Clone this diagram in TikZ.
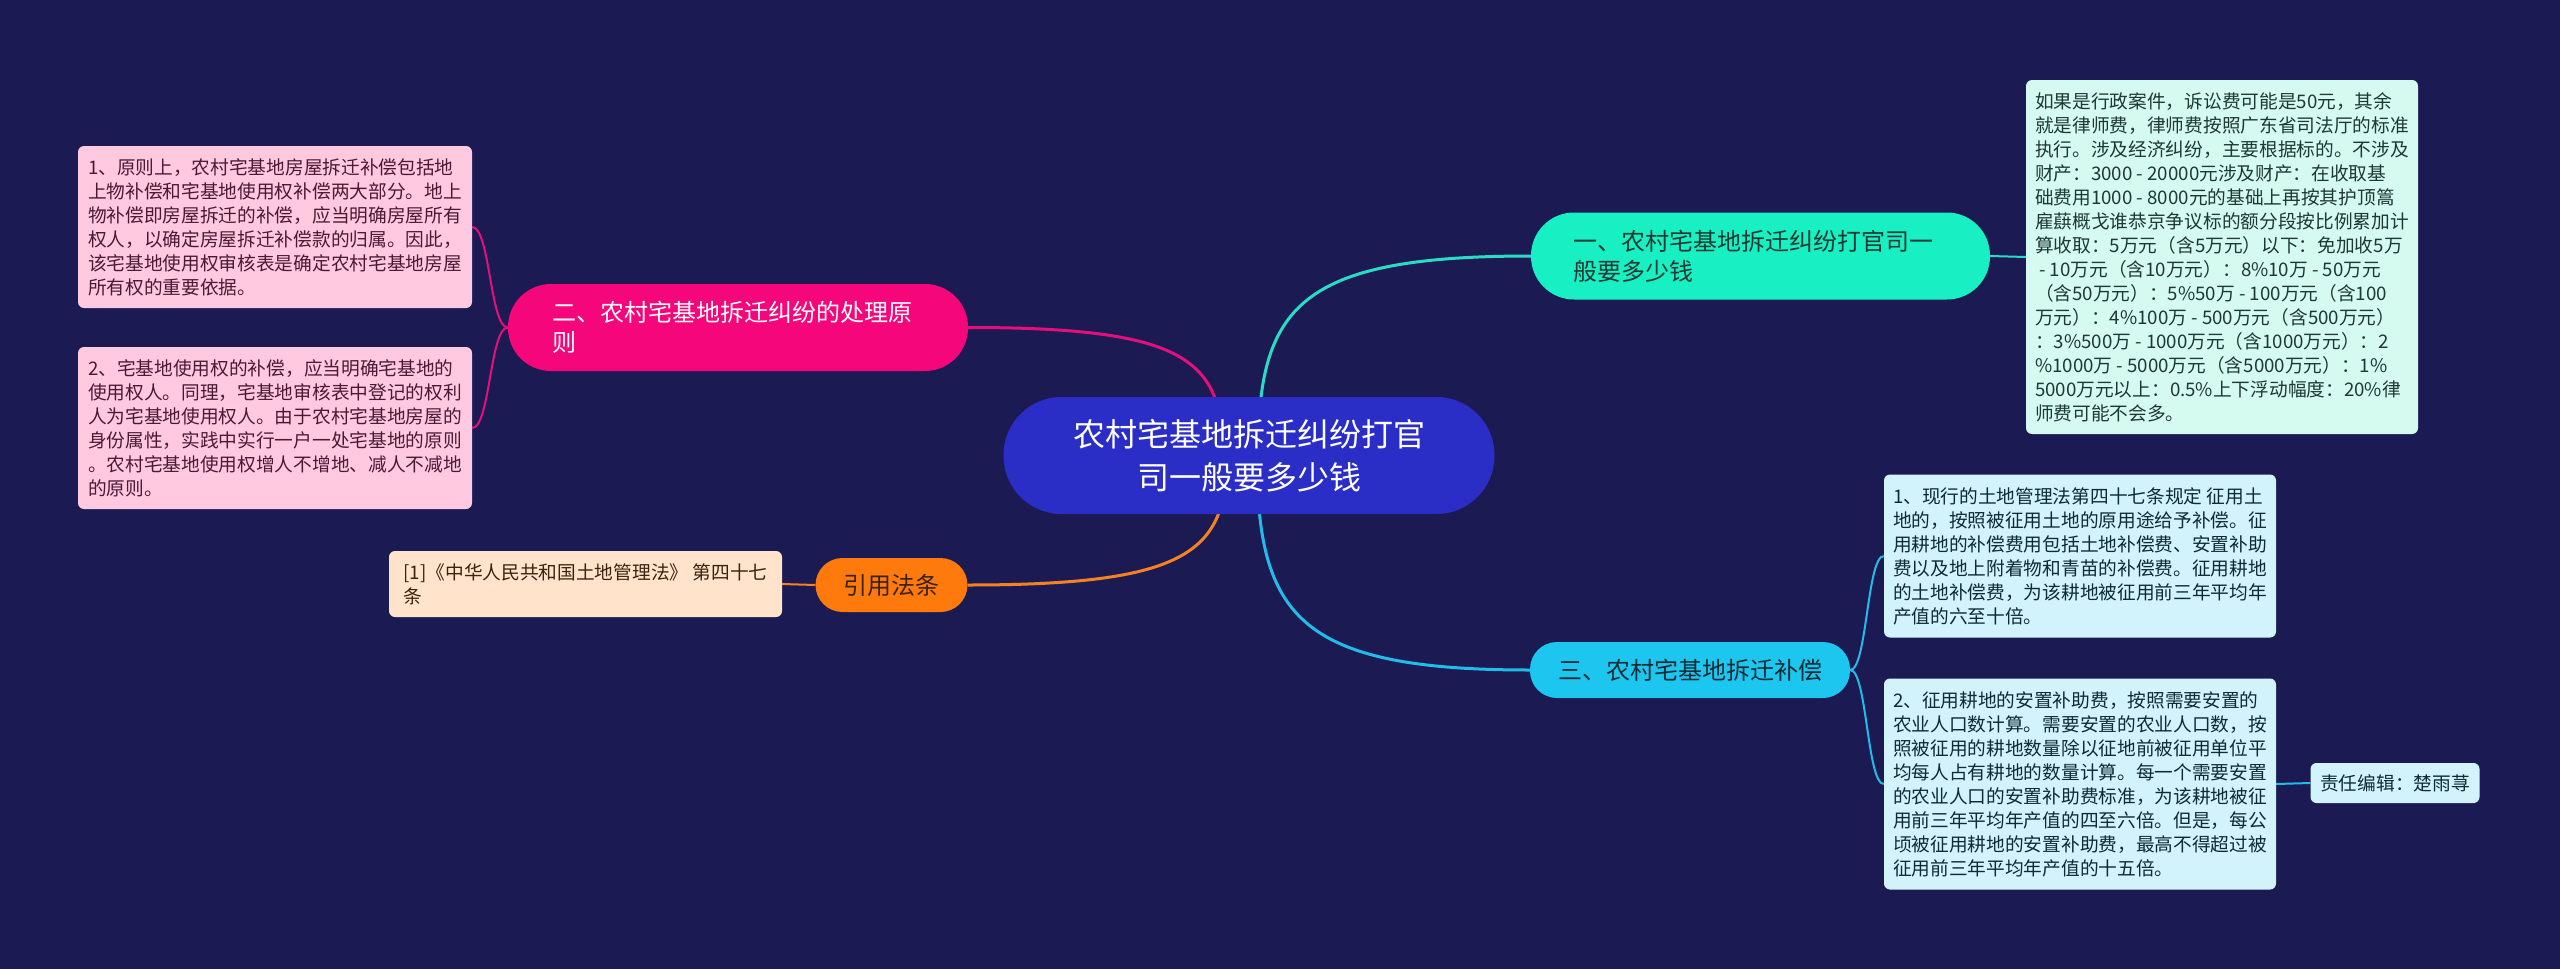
\documentclass[tikz,border=0pt]{standalone}
\usepackage{fontspec}
\setmainfont{Noto Sans CJK SC}
\definecolor{bgc}{HTML}{1B1A52}
\definecolor{rootc}{HTML}{2B2EC6}
\definecolor{tealc}{HTML}{18F0C3}
\definecolor{tealE}{HTML}{2ADCC4}
\definecolor{tealL}{HTML}{D5FAF0}
\definecolor{tealT}{HTML}{1E3833}
\definecolor{pinkc}{HTML}{F5067A}
\definecolor{pinkE}{HTML}{E3107C}
\definecolor{pinkL}{HTML}{FFC9E0}
\definecolor{pinkT}{HTML}{4A1A35}
\definecolor{cyanc}{HTML}{1CC6EE}
\definecolor{cyanE}{HTML}{22BCE8}
\definecolor{cyanL}{HTML}{D2F3FC}
\definecolor{cyanT}{HTML}{0E2A35}
\definecolor{orangec}{HTML}{FF7A0C}
\definecolor{orangeE}{HTML}{F58222}
\definecolor{orangeL}{HTML}{FFE4CB}
\definecolor{orangeT}{HTML}{3A2210}
\pgfdeclarelayer{edges}
\pgfsetlayers{edges,main}
\begin{document}
\begin{tikzpicture}[x=1pt,y=-1pt,
  leafbox/.style={rounded corners=6pt, inner xsep=0pt, inner ysep=0pt, align=left,
    font=\fontsize{18.7}{24}\selectfont},
  branchbox/.style={inner ysep=0pt, font=\fontsize{24}{30}\selectfont},
  thickE/.style={line width=3pt},
  thinE/.style={line width=2pt}
]
\begin{pgfonlayer}{edges}
\fill[bgc] (0,0) rectangle (2560,969);
\end{pgfonlayer}
\useasboundingbox (0,0) rectangle (2560,969);

% root
\node[fill=rootc, text=white, rounded corners=58pt, minimum width=491pt, minimum height=117pt,
  inner sep=0pt, align=center, font=\fontsize{32}{43}\selectfont] (root) at (1249,455.5)
  {农村宅基地拆迁纠纷打官\\司一般要多少钱};

% branches
\node[branchbox, fill=tealc, text=tealT, rounded corners=43pt, minimum height=87pt,
  text width=375pt, inner xsep=42pt, align=left] (b1) at (1760.5,256) {一、农村宅基地拆迁纠纷打官司一\\般要多少钱};
\node[branchbox, fill=pinkc, text=white, rounded corners=43pt, minimum height=87pt,
  text width=372pt, inner xsep=44pt, align=left] (b2) at (738,327.5) {二、农村宅基地拆迁纠纷的处理原\\则};
\node[branchbox, fill=cyanc, text=cyanT, rounded corners=27pt, minimum height=56pt,
  minimum width=320pt, inner xsep=0pt] (b3) at (1690,670) {三、农村宅基地拆迁补偿};
\node[branchbox, fill=orangec, text=orangeT, rounded corners=27pt, minimum height=54pt,
  minimum width=152pt, inner xsep=0pt] (b4) at (891.5,585) {引用法条};

% leaves
\node[leafbox, fill=tealL, text=tealT, minimum width=392pt, minimum height=354pt] (l11) at (2222,257)
{如果是行政案件，诉讼费可能是50元，其余\\
就是律师费，律师费按照广东省司法厅的标准\\
执行。涉及经济纠纷，主要根据标的。不涉及\\
财产：3000 - 20000元涉及财产：在收取基\\
础费用1000 - 8000元的基础上再按其护顶篙\\
雇蕻概戈谁恭京争议标的额分段按比例累加计\\
算收取：5万元（含5万元）以下：免加收5万\\
~- 10万元（含10万元）：8\%10万 - 50万元\\
（含50万元）：5\%50万 - 100万元（含100\\
万元）：4\%100万 - 500万元（含500万元）\\
：3\%500万 - 1000万元（含1000万元）：2\\
\%1000万 - 5000万元（含5000万元）：1\%\\
5000万元以上：0.5\%上下浮动幅度：20\%律\\
师费可能不会多。};

\node[leafbox, fill=pinkL, text=pinkT, minimum width=394pt, minimum height=162pt] (l21) at (275,227)
{1、原则上，农村宅基地房屋拆迁补偿包括地\\
上物补偿和宅基地使用权补偿两大部分。地上\\
物补偿即房屋拆迁的补偿，应当明确房屋所有\\
权人，以确定房屋拆迁补偿款的归属。因此，\\
该宅基地使用权审核表是确定农村宅基地房屋\\
所有权的重要依据。};

\node[leafbox, fill=pinkL, text=pinkT, minimum width=394pt, minimum height=162pt] (l22) at (275,428)
{2、宅基地使用权的补偿，应当明确宅基地的\\
使用权人。同理，宅基地审核表中登记的权利\\
人为宅基地使用权人。由于农村宅基地房屋的\\
身份属性，实践中实行一户一处宅基地的原则\\
。农村宅基地使用权增人不增地、减人不减地\\
的原则。};

\node[leafbox, fill=cyanL, text=cyanT, minimum width=392pt, minimum height=163pt] (l31) at (2080,556)
{1、现行的土地管理法第四十七条规定 征用土\\
地的，按照被征用土地的原用途给予补偿。征\\
用耕地的补偿费用包括土地补偿费、安置补助\\
费以及地上附着物和青苗的补偿费。征用耕地\\
的土地补偿费，为该耕地被征用前三年平均年\\
产值的六至十倍。};

\node[leafbox, fill=cyanL, text=cyanT, minimum width=392pt, minimum height=211pt] (l32) at (2080,784)
{2、征用耕地的安置补助费，按照需要安置的\\
农业人口数计算。需要安置的农业人口数，按\\
照被征用的耕地数量除以征地前被征用单位平\\
均每人占有耕地的数量计算。每一个需要安置\\
的农业人口的安置补助费标准，为该耕地被征\\
用前三年平均年产值的四至六倍。但是，每公\\
顷被征用耕地的安置补助费，最高不得超过被\\
征用前三年平均年产值的十五倍。};

\node[leafbox, fill=orangeL, text=orangeT, minimum width=393pt, minimum height=66pt] (ref) at (585.5,584)
{[1]《中华人民共和国土地管理法》 第四十七\\条};

\node[leafbox, fill=cyanL, text=cyanT, minimum width=169pt, minimum height=40pt, align=center] (ed) at (2395,783)
{责任编辑：楚雨荨};

% edges
\begin{pgfonlayer}{edges}
\draw[thickE, tealE] ([xshift=9pt]root.center) .. controls (1258,306) and (1299,256) .. (b1.west);
\draw[thickE, pinkE] ([xshift=-26pt]root.center) .. controls (1223,359) and (1185,327.5) .. (b2.east);
\draw[thickE, orangeE] ([xshift=-22pt]root.center) .. controls (1227,552) and (1188,585) .. (b4.east);
\draw[thickE, cyanE] ([xshift=8pt]root.center) .. controls (1257,616) and (1298,670) .. (b3.west);

\draw[thinE, pinkE] (b2.west) .. controls (490,327.5) and (490,227) .. (l21.east);
\draw[thinE, pinkE] (b2.west) .. controls (490,327.5) and (490,428) .. (l22.east);
\draw[thinE, cyanE] (b3.east) .. controls (1867,670) and (1867,556) .. (l31.west);
\draw[thinE, cyanE] (b3.east) .. controls (1867,670) and (1867,784) .. (l32.west);
\draw[thinE, tealE] (b1.east) -- (l11.west);
\draw[thinE, orangeE] (b4.west) -- (ref.east);
\draw[thinE, cyanE] (l32.east) -- (ed.west);
\end{pgfonlayer}
\end{tikzpicture}
\end{document}
